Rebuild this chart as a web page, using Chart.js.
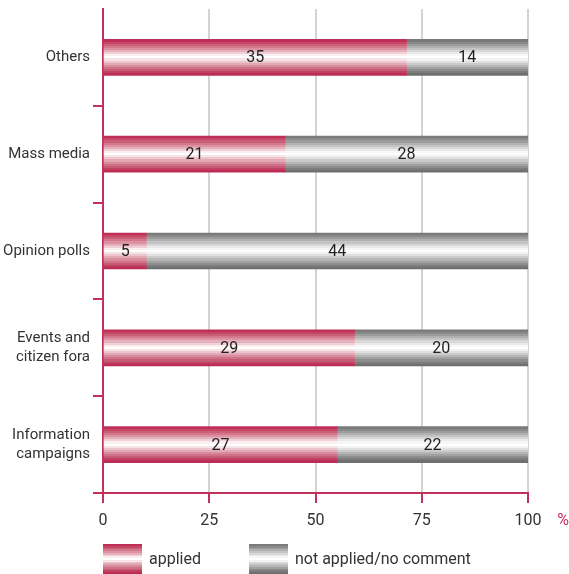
<!DOCTYPE html>
<html>
<head>
<meta charset="utf-8">
<script src="https://cdn.jsdelivr.net/npm/chart.js@4/dist/chart.umd.min.js"></script>
<style>
  html, body { margin: 0; padding: 0; background: #ffffff; }
  #wrap { width: 569px; height: 574px; position: relative; }
</style>
</head>
<body>
<div id="wrap"><canvas id="c" width="569" height="574"></canvas></div>
<script>
// ---- data ----
const categories = ["Others", "Mass media", "Opinion polls", ["Events and", "citizen fora"], ["Information", "campaigns"]];
const appliedCounts = [35, 21, 5, 29, 27];
const notAppliedCounts = [14, 28, 44, 20, 22];
const xTickValues = [0, 25, 50, 75, 100];
const seriesNames = ["applied", "not applied/no comment"];

// shares in percent (bars run on a 0-100 % scale, labels show counts)
const totals = appliedCounts.map((v, i) => v + notAppliedCounts[i]);
const appliedPct = appliedCounts.map((v, i) => v / totals[i] * 100);
const notAppliedPct = notAppliedCounts.map((v, i) => v / totals[i] * 100);

// ---- style ----
const MAGENTA = "#c2305c";
const TEXT = "#333333";
const FONT = "Roboto, 'Liberation Sans', sans-serif";
const FONT_SIZE = 16;
const FONT_WEIGHT = "normal";
const BAR_H = 36;
const pinkBands = ["#bf2f59", "#c54865", "#cc5f78", "#d4788c", "#dc92a2", "#e6b0bc", "#f0d0d7", "#fbeff1", "#ffffff", "#f6e3e7", "#ecc5cd", "#e2a8b5", "#d88d9e", "#cf7288", "#c75a74", "#c0405f", "#bd2c57"];
const greyBands = ["#7a7a7a", "#8a8a8a", "#9c9c9c", "#b0b0b0", "#c4c4c4", "#d8d8d8", "#eaeaea", "#f7f7f7", "#ffffff", "#f2f2f2", "#e0e0e0", "#cbcbcb", "#b6b6b6", "#a1a1a1", "#8d8d8d", "#7c7c7c", "#6f6f6f"];

function banded(c, y0, y1, bands) {
  const g = c.createLinearGradient(0, y0, 0, y1);
  const n = bands.length;
  bands.forEach((col, i) => {
    g.addColorStop(i / n, col);
    g.addColorStop(Math.min(1, (i + 1) / n - 0.0001), col);
  });
  return g;
}

function barFill(bands) {
  return function (ctx) {
    const chart = ctx.chart;
    if (!chart.chartArea || !chart.scales.y) return bands[0];
    const yc = chart.scales.y.getPixelForValue(ctx.dataIndex);
    return banded(chart.ctx, yc - BAR_H / 2, yc + BAR_H / 2, bands);
  };
}

const valueLabels = {
  id: "valueLabels",
  afterDatasetsDraw(chart) {
    const c = chart.ctx;
    const counts = [appliedCounts, notAppliedCounts];
    c.save();
    c.font = FONT_WEIGHT + " " + FONT_SIZE + "px " + FONT;
    c.fillStyle = "#222222";
    c.textAlign = "center";
    c.textBaseline = "middle";
    chart.data.datasets.forEach((ds, di) => {
      const meta = chart.getDatasetMeta(di);
      meta.data.forEach((bar, i) => {
        const x = (bar.x + bar.base) / 2;
        c.fillText(String(counts[di][i]), x, bar.y + 1);
      });
    });
    c.restore();
  }
};

const extras = {
  id: "extras",
  afterDraw(chart) {
    const c = chart.ctx;
    c.save();
    // percent sign
    c.font = FONT_WEIGHT + " " + FONT_SIZE + "px " + FONT;
    c.fillStyle = MAGENTA;
    c.textAlign = "center";
    c.textBaseline = "middle";
    c.fillText("%", 563, 521);
    // legend
    const items = [
      { x: 103, bands: pinkBands, label: seriesNames[0] },
      { x: 249, bands: greyBands, label: seriesNames[1] }
    ];
    items.forEach(it => {
      const y0 = 544, h = 30, w = 39;
      c.fillStyle = banded(c, y0, y0 + h, it.bands);
      c.fillRect(it.x, y0, w, h);
      c.fillStyle = TEXT;
      c.textAlign = "left";
      c.fillText(it.label, it.x + w + 7, y0 + h / 2 + 1);
    });
    c.restore();
  }
};

new Chart(document.getElementById("c"), {
  type: "bar",
  data: {
    labels: categories,
    datasets: [
      { label: seriesNames[0], data: appliedPct, backgroundColor: barFill(pinkBands), borderWidth: 0, barThickness: BAR_H },
      { label: seriesNames[1], data: notAppliedPct, backgroundColor: barFill(greyBands), borderWidth: 0, barThickness: BAR_H }
    ]
  },
  options: {
    indexAxis: "y",
    responsive: false,
    animation: false,
    layout: { padding: { top: 9, right: 41, left: 0, bottom: 0 } },
    plugins: { legend: { display: false }, tooltip: { enabled: false } },
    scales: {
      x: {
        stacked: true,
        min: 0, max: 100,
        afterBuildTicks(axis) { axis.ticks = xTickValues.map(v => ({ value: v })); },
        afterFit(axis) { axis.height = 81; },
        grid: {
          color: (ctx) => ctx.index === 0 ? "rgba(0,0,0,0)" : "#d3d3d3",
          lineWidth: 2,
          tickColor: MAGENTA,
          tickLength: 10,
          drawTicks: true
        },
        border: { display: true, color: MAGENTA, width: 2 },
        ticks: { color: TEXT, font: { family: FONT, size: FONT_SIZE, weight: FONT_WEIGHT }, padding: 8, maxRotation: 0 }
      },
      y: {
        stacked: true,
        afterFit(axis) { axis.width = 103; axis.paddingTop = 0; axis.paddingBottom = 0; },
        grid: {
          offset: true,
          drawOnChartArea: false,
          color: (ctx) => ctx.index === 0 ? "rgba(0,0,0,0)" : MAGENTA,
          lineWidth: 2,
          tickLength: 10
        },
        border: { display: true, color: MAGENTA, width: 2 },
        ticks: { color: TEXT, font: { family: FONT, size: 15, weight: FONT_WEIGHT, lineHeight: 1.25 }, padding: 3 }
      }
    }
  },
  plugins: [valueLabels, extras]
});
</script>
</body>
</html>
